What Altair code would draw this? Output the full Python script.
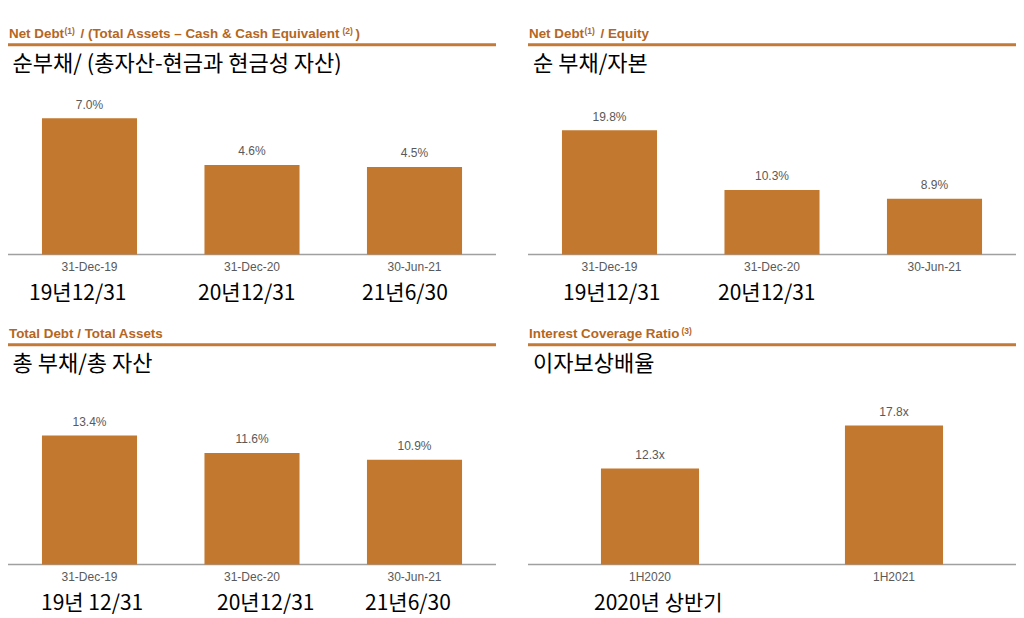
import altair as alt
import pandas as pd

# ---------------- data ----------------
cats_tl = ["31-Dec-19", "31-Dec-20", "30-Jun-21"]
vals_tl = [7.0, 4.6, 4.5]
labs_tl = ["7.0%", "4.6%", "4.5%"]

cats_tr = ["31-Dec-19", "31-Dec-20", "30-Jun-21"]
vals_tr = [19.8, 10.3, 8.9]
labs_tr = ["19.8%", "10.3%", "8.9%"]

cats_bl = ["31-Dec-19", "31-Dec-20", "30-Jun-21"]
vals_bl = [13.4, 11.6, 10.9]
labs_bl = ["13.4%", "11.6%", "10.9%"]

cats_br = ["1H2020", "1H2021"]
vals_br = [12.3, 17.8]
labs_br = ["12.3x", "17.8x"]

kr_title_tl = "순부채/ (총자산-현금과 현금성 자산)"
kr_title_tr = "순 부채/자본"
kr_title_bl = "총 부채/총 자산"
kr_title_br = "이자보상배율"

kr_notes_tl = ["19년12/31", "20년12/31", "21년6/30"]
kr_notes_tr = ["19년12/31", "20년12/31"]
kr_notes_bl = ["19년 12/31", "20년12/31", "21년6/30"]
kr_notes_br = ["2020년 상반기"]

# ---------------- styles ----------------
BAR = "#C2782F"
TITLE = "#B5661F"
RULE = "#C27A36"
GRAY = "#595959"
AXIS = "#A0A0A0"
LATIN = "Liberation Sans"
KR = "Noto Sans CJK KR"


def txt(s, x, y, size, color="black", font=LATIN, weight="normal", align="left"):
    return alt.Chart(pd.DataFrame({"t": [s]})).mark_text(
        align=align, baseline="alphabetic", fontSize=size, font=font,
        fontWeight=weight, color=color
    ).encode(x=alt.value(x), y=alt.value(y), text="t:N")


def hrule(x0, x1, y, color, width):
    return alt.Chart(pd.DataFrame({"a": [0]})).mark_rule(
        color=color, strokeWidth=width
    ).encode(x=alt.value(x0), x2=alt.value(x1), y=alt.value(y))


def panel(cats, vals, labs, x0, x1, base, top, ymax, pin, pout, label_y):
    df = pd.DataFrame({"cat": cats, "v": vals, "lab": labs})
    xs = alt.X("cat:N", sort=cats, axis=None,
               scale=alt.Scale(range=[x0, x1], paddingInner=pin, paddingOuter=pout))
    ys = alt.Y("v:Q", axis=None,
               scale=alt.Scale(domain=[0, ymax], range=[base, top], nice=False, zero=True))
    c = alt.Chart(df)
    bars = c.mark_bar(color=BAR).encode(x=xs, y=ys)
    vlab = c.mark_text(dy=-9.5, baseline="alphabetic", fontSize=12, font=LATIN,
                       color=GRAY).encode(x=xs, y=ys, text="lab:N")
    xlab = c.mark_text(baseline="alphabetic", fontSize=12, font=LATIN,
                       color=GRAY).encode(x=xs, y=alt.value(label_y), text="cat:N")
    axis_line = hrule(x0, x1, base, AXIS, 1.5)
    return alt.layer(axis_line, bars, vlab, xlab)


layers = []

# panels (scales through Altair)
layers.append(panel(cats_tl, vals_tl, labs_tl, 8, 496, 254.5, 44.7, 10.78, 0.415, 0.209, 271))
layers.append(panel(cats_tr, vals_tr, labs_tr, 528, 1016, 254.5, 44.7, 33.46, 0.415, 0.209, 271))
layers.append(panel(cats_bl, vals_bl, labs_bl, 8, 496, 564.5, 344.8, 22.84, 0.415, 0.209, 581))
layers.append(panel(cats_br, vals_br, labs_br, 528, 1016, 564.5, 344.8, 28.13, 0.598, 0.299, 581))

# title underlines
layers += [hrule(8, 496, 44.7, RULE, 3), hrule(528, 1016, 44.7, RULE, 3),
           hrule(8, 496, 344.8, RULE, 3), hrule(528, 1016, 344.8, RULE, 3)]

TS = 13.4
SS = 8.5
# English titles with superscripts
layers += [
    txt("Net Debt", 9, 38, TS, TITLE, weight="bold"),
    txt("(1)", 64.5, 34, SS, TITLE, weight="bold"),
    txt("/ (Total Assets \u2013 Cash & Cash Equivalent", 80.5, 38, TS, TITLE, weight="bold"),
    txt("(2)", 342.5, 34, SS, TITLE, weight="bold"),
    txt(")", 355.5, 38, TS, TITLE, weight="bold"),

    txt("Net Debt", 529, 38, TS, TITLE, weight="bold"),
    txt("(1)", 584.5, 34, SS, TITLE, weight="bold"),
    txt("/ Equity", 600.5, 38, TS, TITLE, weight="bold"),

    txt("Total Debt / Total Assets", 9, 338, TS, TITLE, weight="bold"),

    txt("Interest Coverage Ratio", 529, 338, TS, TITLE, weight="bold"),
    txt("(3)", 681.5, 334, SS, TITLE, weight="bold"),
]

# Korean subtitles
KS = 22
layers += [
    txt(kr_title_tl, 12.5, 70.5, KS, font=KR),
    txt(kr_title_tr, 533, 70.5, KS, font=KR),
    txt(kr_title_bl, 12.5, 371, KS, font=KR),
    txt(kr_title_br, 533, 371, KS, font=KR),
]

# Korean notes under the categories
NS = 21
note_x_tl = [29, 198, 362]
note_x_tr = [563, 718]
note_x_bl = [41, 217, 365]
note_x_br = [594]
for notes, xs_, y in [(kr_notes_tl, note_x_tl, 299.5), (kr_notes_tr, note_x_tr, 299.5),
                      (kr_notes_bl, note_x_bl, 609.5), (kr_notes_br, note_x_br, 609.5)]:
    for s, x in zip(notes, xs_):
        layers.append(txt(s, x, y, NS, font=KR))

chart = alt.layer(*layers).resolve_scale(
    x="independent", y="independent"
).properties(
    width=1024, height=618, padding=0,
    autosize=alt.AutoSizeParams(type="none"),
    background="white",
).configure_view(stroke=None)

chart.save("out.html", embed_options={"renderer": "svg", "actions": False})
